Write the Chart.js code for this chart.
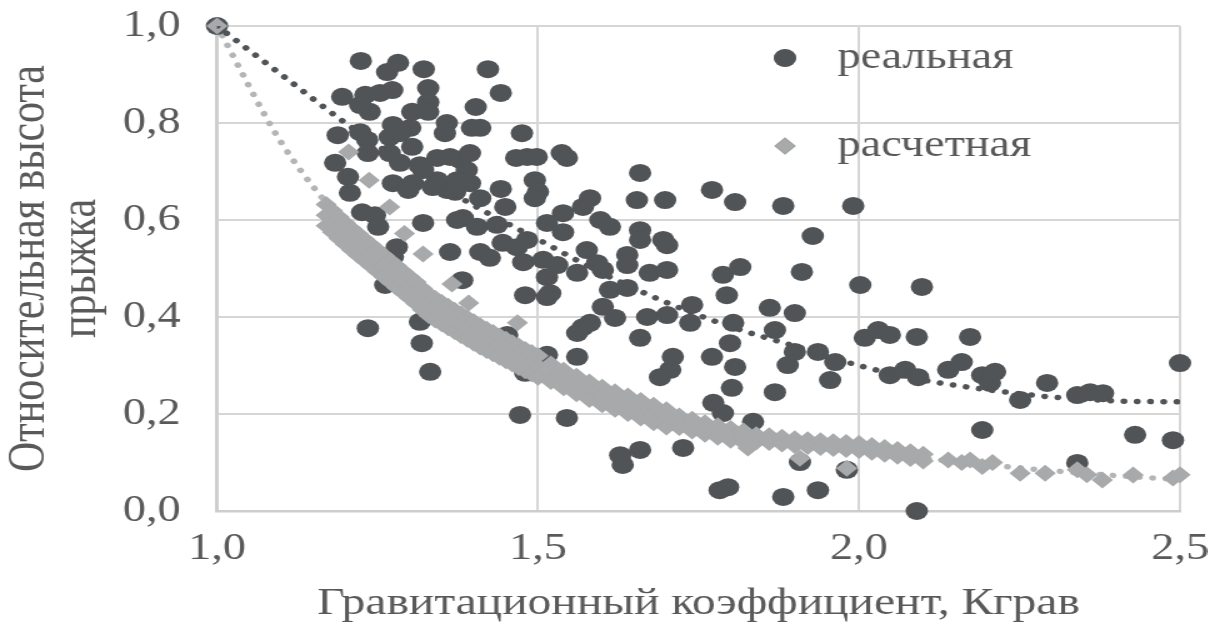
<!DOCTYPE html>
<html>
<head>
<meta charset="utf-8">
<script src="https://cdn.jsdelivr.net/npm/chart.js@4.4.1/dist/chart.umd.min.js"></script>
<style>
    html, body { margin: 0; padding: 0; background: #fff; overflow: hidden; }
    /* the original figure is stretched horizontally, so the chart is drawn narrow and widened */
    #wrap { width: 966px; height: 628px; transform: scaleX(1.25); transform-origin: 0 0; }
</style>
</head>
<body>
<div id="wrap"><canvas id="chart"></canvas></div>
<script>
// реальная: [Кграв, относительная высота]
const realPoints = [
    [1.00, 1.00], [1.224, 0.928], [1.265, 0.905], [1.282, 0.924], [1.322, 0.911], [1.422, 0.911], [1.442, 0.862],
    [1.403, 0.833], [1.397, 0.790], [1.410, 0.790], [1.475, 0.779], [1.466, 0.728], [1.483, 0.730], [1.498, 0.730],
    [1.537, 0.738], [1.545, 0.728], [1.495, 0.682], [1.500, 0.658], [1.495, 0.645], [1.442, 0.664], [1.410, 0.645],
    [1.449, 0.627], [1.379, 0.724], [1.394, 0.738], [1.389, 0.703], [1.394, 0.676], [1.358, 0.800], [1.355, 0.779],
    [1.195, 0.854], [1.231, 0.858], [1.254, 0.862], [1.273, 0.868], [1.238, 0.823], [1.223, 0.837], [1.329, 0.872],
    [1.329, 0.843], [1.329, 0.823], [1.304, 0.823], [1.274, 0.796], [1.269, 0.771], [1.301, 0.790], [1.188, 0.775],
    [1.223, 0.781], [1.234, 0.765], [1.184, 0.718], [1.204, 0.689], [1.235, 0.738], [1.269, 0.738], [1.304, 0.751],
    [1.316, 0.713], [1.285, 0.718], [1.343, 0.728], [1.363, 0.730], [1.274, 0.676], [1.305, 0.676], [1.343, 0.682],
    [1.358, 0.662], [1.207, 0.656], [1.374, 0.682], [1.285, 0.779], [1.226, 0.616], [1.246, 0.610], [1.251, 0.586],
    [1.321, 0.703], [1.298, 0.662], [1.371, 0.658], [1.336, 0.668], [1.383, 0.604], [1.405, 0.586], [1.436, 0.590],
    [1.321, 0.594], [1.374, 0.600], [1.363, 0.534], [1.280, 0.544], [1.274, 0.524], [1.262, 0.466], [1.382, 0.476],
    [1.410, 0.534], [1.425, 0.522], [1.445, 0.553], [1.467, 0.544], [1.483, 0.559], [1.477, 0.513], [1.508, 0.518],
    [1.530, 0.507], [1.514, 0.482], [1.519, 0.449], [1.480, 0.445], [1.514, 0.441], [1.452, 0.363], [1.235, 0.377],
    [1.316, 0.390], [1.319, 0.346], [1.332, 0.287], [1.480, 0.285], [1.514, 0.322], [1.561, 0.318], [1.472, 0.198],
    [1.545, 0.192], [1.628, 0.115], [1.659, 0.126], [1.632, 0.095], [1.726, 0.130], [1.659, 0.697], [1.654, 0.641],
    [1.698, 0.641], [1.771, 0.662], [1.807, 0.637], [1.581, 0.645], [1.570, 0.627], [1.597, 0.600], [1.612, 0.586],
    [1.539, 0.614], [1.514, 0.594], [1.539, 0.575], [1.659, 0.579], [1.659, 0.559], [1.695, 0.559], [1.701, 0.548],
    [1.576, 0.538], [1.592, 0.511], [1.561, 0.491], [1.601, 0.497], [1.639, 0.528], [1.639, 0.507], [1.674, 0.491],
    [1.701, 0.497], [1.612, 0.456], [1.639, 0.460], [1.601, 0.421], [1.620, 0.398], [1.570, 0.379], [1.581, 0.388],
    [1.561, 0.367], [1.670, 0.400], [1.701, 0.404], [1.740, 0.425], [1.737, 0.388], [1.659, 0.357], [1.710, 0.318],
    [1.706, 0.291], [1.690, 0.276], [1.771, 0.318], [1.788, 0.487], [1.794, 0.445], [1.815, 0.503], [1.804, 0.388],
    [1.799, 0.346], [1.807, 0.297], [1.802, 0.254], [1.773, 0.223], [1.788, 0.202], [1.882, 0.629], [1.991, 0.629],
    [1.928, 0.567], [1.911, 0.493], [2.002, 0.466], [2.098, 0.462], [1.861, 0.419], [1.900, 0.408], [1.869, 0.373],
    [1.889, 0.301], [1.900, 0.328], [1.936, 0.328], [1.963, 0.307], [1.955, 0.270], [2.009, 0.357], [2.030, 0.373],
    [2.048, 0.363], [2.090, 0.359], [2.048, 0.280], [2.072, 0.291], [2.092, 0.276], [1.869, 0.245], [1.835, 0.184],
    [1.783, 0.043], [1.796, 0.049], [1.882, 0.029], [1.936, 0.043], [1.908, 0.101], [1.981, 0.085], [2.090, 0.000],
    [2.173, 0.359], [2.139, 0.291], [2.160, 0.307], [2.192, 0.280], [2.212, 0.287], [2.204, 0.264], [2.251, 0.229],
    [2.293, 0.264], [2.340, 0.239], [2.360, 0.245], [2.380, 0.243], [2.500, 0.305], [2.192, 0.167], [2.430, 0.157],
    [2.489, 0.146], [2.340, 0.099]
];

// расчетная: верхняя ветка, плотная полоса и точки справа
const calcPoints = [
    [1.00, 1.00], [1.205, 0.740], [1.237, 0.682], [1.269, 0.627], [1.292, 0.572], [1.321, 0.530], [1.366, 0.468],
    [1.392, 0.429], [1.468, 0.388],
    [1.17, 0.632], [1.17, 0.610], [1.17, 0.588], [1.18, 0.619], [1.18, 0.597], [1.18, 0.575],
    [1.19, 0.606], [1.19, 0.584], [1.19, 0.562], [1.20, 0.594], [1.20, 0.572], [1.20, 0.550],
    [1.21, 0.582], [1.21, 0.560], [1.21, 0.538], [1.22, 0.571], [1.22, 0.549], [1.22, 0.527],
    [1.23, 0.560], [1.23, 0.538], [1.23, 0.516], [1.24, 0.549], [1.24, 0.527], [1.24, 0.505],
    [1.25, 0.538], [1.25, 0.516], [1.25, 0.494], [1.26, 0.527], [1.26, 0.505], [1.26, 0.483],
    [1.27, 0.516], [1.27, 0.494], [1.27, 0.472], [1.28, 0.505], [1.28, 0.483], [1.28, 0.461],
    [1.29, 0.494], [1.29, 0.472], [1.29, 0.450], [1.30, 0.483], [1.30, 0.461], [1.30, 0.439],
    [1.31, 0.472], [1.31, 0.450], [1.31, 0.428], [1.32, 0.459], [1.32, 0.437], [1.32, 0.415],
    [1.33, 0.447], [1.33, 0.425], [1.33, 0.403], [1.34, 0.438], [1.34, 0.416], [1.34, 0.394],
    [1.35, 0.430], [1.35, 0.408], [1.35, 0.386], [1.36, 0.422], [1.36, 0.400], [1.36, 0.378],
    [1.37, 0.414], [1.37, 0.392], [1.37, 0.370], [1.38, 0.406], [1.38, 0.384], [1.38, 0.362],
    [1.39, 0.398], [1.39, 0.376], [1.39, 0.354], [1.40, 0.390], [1.40, 0.368], [1.40, 0.346],
    [1.41, 0.382], [1.41, 0.360], [1.41, 0.338], [1.42, 0.375], [1.42, 0.353], [1.42, 0.331],
    [1.43, 0.368], [1.43, 0.346], [1.43, 0.324], [1.44, 0.361], [1.44, 0.339], [1.44, 0.317],
    [1.45, 0.354], [1.45, 0.332], [1.45, 0.310], [1.46, 0.347], [1.46, 0.325], [1.46, 0.303],
    [1.47, 0.340], [1.47, 0.318], [1.47, 0.296], [1.48, 0.333], [1.48, 0.311], [1.48, 0.289],
    [1.49, 0.327], [1.49, 0.305], [1.49, 0.283], [1.50, 0.320], [1.50, 0.298], [1.50, 0.276],
    [1.52, 0.303], [1.52, 0.285], [1.52, 0.267], [1.54, 0.290], [1.54, 0.272], [1.54, 0.254],
    [1.56, 0.278], [1.56, 0.260], [1.56, 0.242], [1.58, 0.266], [1.58, 0.248], [1.58, 0.230],
    [1.60, 0.255], [1.60, 0.237], [1.60, 0.219], [1.62, 0.246], [1.62, 0.228], [1.62, 0.210],
    [1.64, 0.237], [1.64, 0.219], [1.64, 0.201], [1.66, 0.228], [1.66, 0.210], [1.66, 0.192],
    [1.68, 0.218], [1.68, 0.200], [1.68, 0.182], [1.70, 0.209], [1.70, 0.191], [1.70, 0.173],
    [1.72, 0.196], [1.72, 0.184], [1.72, 0.172], [1.74, 0.189], [1.74, 0.177], [1.74, 0.165],
    [1.76, 0.182], [1.76, 0.170], [1.76, 0.158], [1.78, 0.176], [1.78, 0.164], [1.78, 0.152],
    [1.80, 0.170], [1.80, 0.158], [1.80, 0.146], [1.82, 0.165], [1.82, 0.153], [1.82, 0.141],
    [1.84, 0.157], [1.84, 0.143], [1.86, 0.155], [1.86, 0.141], [1.88, 0.152], [1.88, 0.138],
    [1.90, 0.149], [1.90, 0.135], [1.92, 0.147], [1.92, 0.133], [1.94, 0.145], [1.94, 0.131],
    [1.96, 0.143], [1.96, 0.129], [1.98, 0.141], [1.98, 0.127], [2.00, 0.139], [2.00, 0.125],
    [2.02, 0.135], [2.02, 0.121], [2.04, 0.131], [2.04, 0.117], [2.06, 0.127], [2.06, 0.113],
    [2.08, 0.122], [2.08, 0.108], [2.10, 0.117], [2.10, 0.103],
    [2.139, 0.105], [2.16, 0.100], [2.173, 0.105], [2.192, 0.092], [2.208, 0.100], [2.251, 0.078],
    [2.290, 0.078], [2.340, 0.085], [2.355, 0.075], [2.379, 0.064], [2.427, 0.074], [2.489, 0.068],
    [2.500, 0.075], [1.827, 0.130], [1.908, 0.109], [1.981, 0.088]
];

// пунктирные линии тренда
const realTrend = [
    [1.0, 1.0], [1.1, 0.90], [1.2, 0.80], [1.3, 0.71], [1.4, 0.63], [1.5, 0.56], [1.6, 0.49], [1.7, 0.43],
    [1.8, 0.38], [1.9, 0.34], [2.0, 0.30], [2.1, 0.27], [2.2, 0.25], [2.3, 0.235], [2.4, 0.227], [2.5, 0.225]
];
const calcTrend = [
    [1.0, 1.0], [1.1, 0.76], [1.2, 0.59], [1.3, 0.46], [1.4, 0.37], [1.5, 0.30], [1.6, 0.245], [1.8, 0.17],
    [2.0, 0.125], [2.2, 0.095], [2.4, 0.073], [2.5, 0.065]
];

const seriesNames = ['реальная', 'расчетная'];
const xTitle = 'Гравитационный коэффициент, Кграв';
const yTitle = ['Относительная высота', 'прыжка'];

const toXY = pts => pts.map(p => ({ x: p[0], y: p[1] }));
const fmt = v => v.toFixed(1).replace('.', ',');
const FONT = "'Liberation Serif', 'Times New Roman', serif";
const TEXT = '#595959';
const DARK = '#505457';
const LIGHT = '#a7a9aa';

// легенда внутри области графика
const insideLegend = {
    id: 'insideLegend',
    afterDraw(chart) {
        const ctx = chart.ctx;
        const rows = [{ ds: 0, y: 58 }, { ds: 1, y: 146 }];
        ctx.save();
        ctx.font = '37px ' + FONT;
        ctx.textBaseline = 'middle';
        rows.forEach(r => {
            const ds = chart.data.datasets[r.ds];
            Chart.helpers.drawPoint(ctx, {
                pointStyle: ds.pointStyle, radius: ds.pointRadius, rotation: 0, borderWidth: 0
            }, 628, r.y);
            ctx.fillStyle = ds.backgroundColor;
            ctx.fill();
            ctx.fillStyle = TEXT;
            ctx.fillText(ds.label, 670, r.y);
        });
        ctx.restore();
    }
};

// без лишних отступов от подписей делений
const fixX = s => { s.height = 117; s.paddingLeft = 0; s.paddingRight = 0; };
const fixY = s => { s.width = 173.6; s.paddingTop = 0; s.paddingBottom = 0; };

new Chart(document.getElementById('chart'), {
    type: 'scatter',
    data: {
        datasets: [
            {
                label: seriesNames[0], data: toXY(realPoints), order: 2, clip: false,
                pointStyle: 'circle', pointRadius: 9, pointHoverRadius: 9,
                backgroundColor: DARK, borderWidth: 0
            },
            {
                label: seriesNames[1], data: toXY(calcPoints), order: 1, clip: false,
                pointStyle: 'rectRot', pointRadius: 8.5, pointHoverRadius: 8.5,
                backgroundColor: LIGHT, borderWidth: 0
            },
            {
                label: 'trend1', data: toXY(realTrend), order: 0, showLine: true,
                pointRadius: 0, borderColor: DARK, borderWidth: 5.5, borderDash: [0.1, 10.5],
                borderCapStyle: 'round', cubicInterpolationMode: 'monotone', fill: false
            },
            {
                label: 'trend2', data: toXY(calcTrend), order: 3, showLine: true,
                pointRadius: 0, borderColor: '#b3b5b6', borderWidth: 5.5, borderDash: [0.1, 10.5],
                borderCapStyle: 'round', cubicInterpolationMode: 'monotone', fill: false
            }
        ]
    },
    options: {
        responsive: true,
        maintainAspectRatio: false,
        animation: false,
        events: [],
        layout: { padding: { left: 0, top: 26, right: 22, bottom: 0 } },
        plugins: { legend: { display: false }, tooltip: { enabled: false } },
        scales: {
            x: {
                type: 'linear', min: 1, max: 2.5,
                afterFit: fixX,
                ticks: { stepSize: 0.5, callback: fmt, color: TEXT, font: { family: FONT, size: 37 }, padding: 16, maxRotation: 0 },
                grid: { color: '#d6d6d6', lineWidth: 2, drawTicks: false },
                border: { color: '#cdcdcd', width: 2.5 },
                title: { display: true, text: xTitle, color: TEXT, font: { family: FONT, size: 38, lineHeight: 1.2 }, padding: { top: 0, bottom: 1 } }
            },
            y: {
                min: 0, max: 1,
                afterFit: fixY,
                ticks: { stepSize: 0.2, callback: fmt, color: TEXT, font: { family: FONT, size: 37 }, padding: 29 },
                grid: { color: '#d6d6d6', lineWidth: 2, drawTicks: false },
                border: { color: '#cdcdcd', width: 2.5 },
                title: { display: true, text: yTitle, color: TEXT, font: { family: FONT, size: 42, lineHeight: 0.99 }, padding: { top: 3, bottom: 0 } }
            }
        }
    },
    plugins: [insideLegend]
});
</script>
</body>
</html>
